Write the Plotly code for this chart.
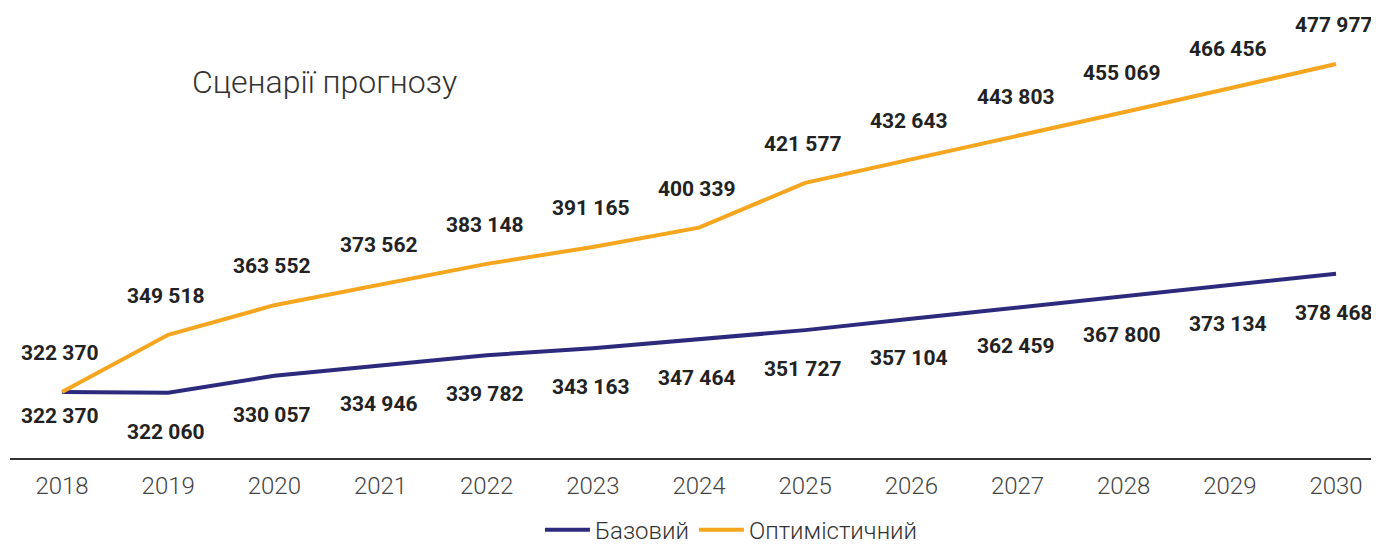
import plotly.graph_objects as go

years = ["2018", "2019", "2020", "2021", "2022", "2023", "2024",
         "2025", "2026", "2027", "2028", "2029", "2030"]
base = [322370, 322060, 330057, 334946, 339782, 343163, 347464,
        351727, 357104, 362459, 367800, 373134, 378468]
optim = [322370, 349518, 363552, 373562, 383148, 391165, 400339,
         421577, 432643, 443803, 455069, 466456, 477977]

BLUE = "#2c2a7c"
ORANGE = "#f6a51f"

def fmt(v):
    return f"{v:,}".replace(",", " ")

fig = go.Figure()
fig.add_trace(go.Scatter(x=years, y=base, mode="lines", name="Базовий",
                         line=dict(color=BLUE, width=4)))
fig.add_trace(go.Scatter(x=years, y=optim, mode="lines", name="Оптимістичний",
                         line=dict(color=ORANGE, width=4)))

label_font = dict(family="Roboto", size=21, color="#222222", weight=900)
for i, v in enumerate(base):
    fig.add_annotation(x=i, y=v, xref="x", yref="y", text="<b>" + fmt(v) + "</b>",
                       showarrow=False, yshift=-24 if i == 0 else -39,
                       xshift=-2, font=label_font)
for i, v in enumerate(optim):
    fig.add_annotation(x=i, y=v, xref="x", yref="y", text="<b>" + fmt(v) + "</b>",
                       showarrow=False, yshift=39, xshift=-2, font=label_font)

fig.add_annotation(xref="paper", yref="paper", x=0.1315, y=0.839,
                   xanchor="left", yanchor="middle", text="Сценарії прогнозу",
                   showarrow=False,
                   font=dict(family="Roboto", size=32, color="#333333", weight=300))

fig.update_layout(
    width=1371, height=536,
    margin=dict(l=2, r=0, t=2, b=86),
    paper_bgcolor="white", plot_bgcolor="white",
    showlegend=True,
    legend=dict(orientation="h", x=0.527, xanchor="center", xref="paper",
                y=0.026, yanchor="middle", yref="container", itemwidth=45,
                font=dict(family="Roboto", size=24, color="#333333", weight=300)),
    xaxis=dict(type="category", range=[-0.49, 12.405], showgrid=False,
               showline=True, linecolor="#333333", linewidth=1.5,
               ticks="", ticklabelstandoff=5, automargin=False,
               tickfont=dict(family="Roboto", size=24, color="#444444", weight=300)),
    yaxis=dict(range=[291061, 503585], visible=False, showgrid=False,
               automargin=False),
)

fig.write_html("out.html")
